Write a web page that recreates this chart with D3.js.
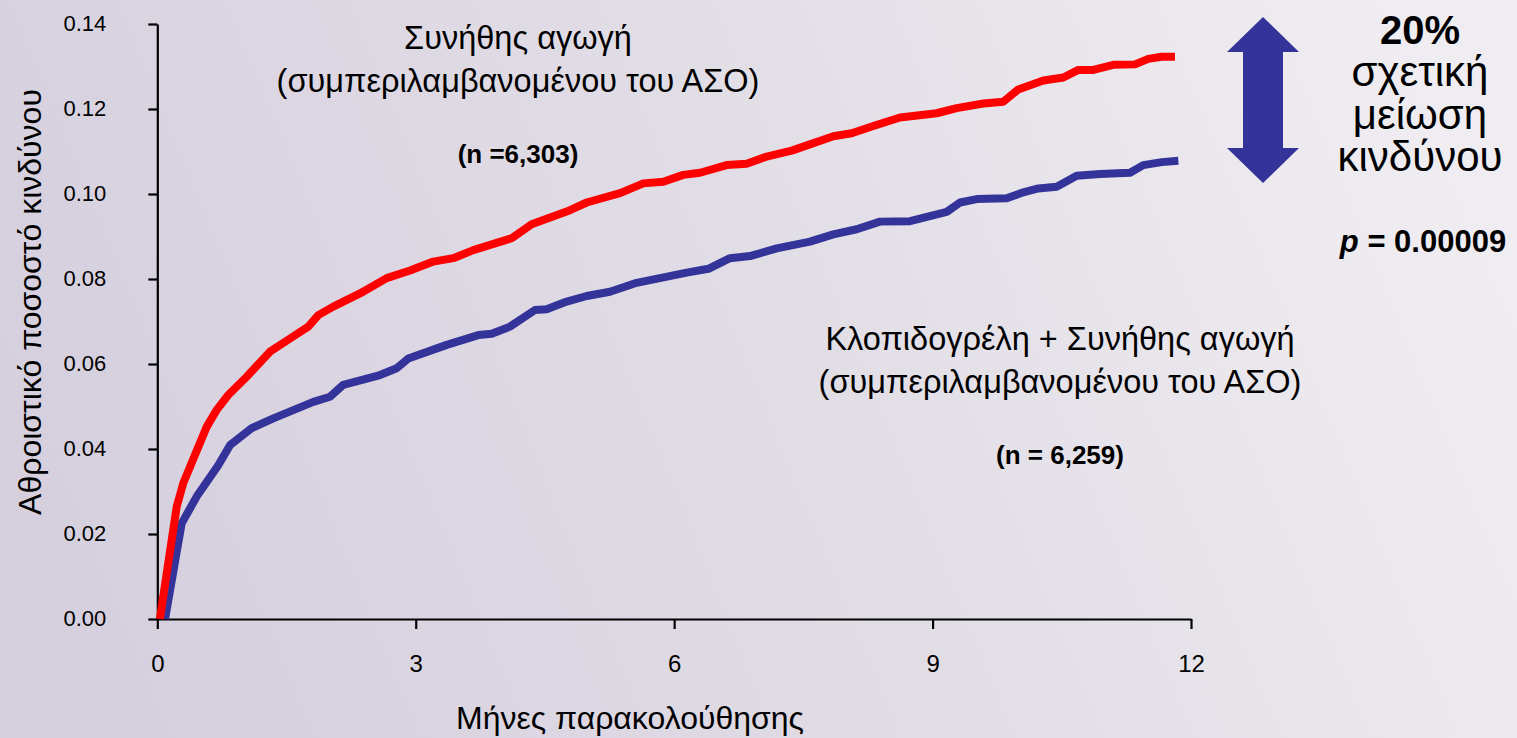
<!DOCTYPE html>
<html>
<head>
<meta charset="utf-8">
<script src="https://cdn.jsdelivr.net/npm/d3@7"></script>
<style>
  html, body { margin: 0; padding: 0; overflow: hidden; }
  body { font-family: "Liberation Sans", Arial, sans-serif; }
</style>
</head>
<body>
<div id="chart"></div>
<script>
const WIDTH = 1517;
const HEIGHT = 738;

// Cumulative hazard rate (month, rate)
const usualMonths = [0.03, 0.225, 0.302, 0.573, 0.69, 0.824, 1.038, 1.308, 1.541, 1.753, 1.869, 2.043, 2.353, 2.663, 2.934, 3.204, 3.436, 3.668, 4.114, 4.346, 4.791, 4.985, 5.372, 5.642, 5.874, 6.106, 6.3, 6.61, 6.842, 7.074, 7.365, 7.848, 8.061, 8.312, 8.622, 9.048, 9.28, 9.589, 9.821, 9.995, 10.286, 10.518, 10.692, 10.866, 11.098, 11.35, 11.504, 11.66, 11.814];
const usualRate = [0.0, 0.0264, 0.032, 0.0452, 0.0492, 0.0527, 0.057, 0.0629, 0.066, 0.0688, 0.0715, 0.0735, 0.0766, 0.0802, 0.082, 0.0841, 0.0849, 0.0868, 0.0896, 0.0929, 0.0962, 0.098, 0.1002, 0.1025, 0.1029, 0.1045, 0.105, 0.1068, 0.1071, 0.1088, 0.1102, 0.1136, 0.1143, 0.116, 0.118, 0.119, 0.1202, 0.1213, 0.1217, 0.1246, 0.1267, 0.1274, 0.1292, 0.1292, 0.1304, 0.1305, 0.1318, 0.1323, 0.1323];

const clopiMonths = [0.09, 0.283, 0.457, 0.708, 0.844, 1.096, 1.347, 1.811, 2.005, 2.159, 2.585, 2.779, 2.914, 3.36, 3.727, 3.882, 4.094, 4.385, 4.52, 4.753, 4.985, 5.255, 5.565, 6.146, 6.397, 6.648, 6.881, 7.191, 7.577, 7.848, 8.119, 8.39, 8.738, 9.164, 9.319, 9.512, 9.861, 10.053, 10.227, 10.441, 10.673, 10.944, 11.292, 11.446, 11.66, 11.853];
const clopiRate = [0.0, 0.0225, 0.0288, 0.0362, 0.0409, 0.0449, 0.0472, 0.0511, 0.0523, 0.0551, 0.0574, 0.059, 0.0613, 0.0645, 0.0668, 0.0671, 0.0688, 0.0727, 0.0729, 0.0747, 0.076, 0.077, 0.0791, 0.0815, 0.0824, 0.0849, 0.0854, 0.0872, 0.0888, 0.0905, 0.0917, 0.0935, 0.0936, 0.0958, 0.098, 0.0988, 0.099, 0.1004, 0.1013, 0.1017, 0.1043, 0.1047, 0.105, 0.1068, 0.1075, 0.1078];

const xTicks = [0, 3, 6, 9, 12];
const yTicks = [0, 0.02, 0.04, 0.06, 0.08, 0.10, 0.12, 0.14];

const usualLabel = ['Συνήθης αγωγή', '(συμπεριλαμβανομένου του ΑΣΟ)'];
const usualN = '(n =6,303)';
const clopiLabel = ['Κλοπιδογρέλη + Συνήθης αγωγή', '(συμπεριλαμβανομένου του ΑΣΟ)'];
const clopiN = '(n = 6,259)';
const reductionLines = ['σχετική', 'μείωση', 'κινδύνου'];

const RED = '#ff0000';
const BLUE = '#333399';
const FONT = '"Liberation Sans", Arial, sans-serif';

const svg = d3.select('#chart')
  .append('svg')
  .attr('width', WIDTH)
  .attr('height', HEIGHT)
  .style('font-family', FONT);

// Background gradient
const grad = svg.append('defs').append('linearGradient')
  .attr('id', 'bg')
  .attr('x1', '0%').attr('y1', '60%')
  .attr('x2', '100%').attr('y2', '40%');
grad.append('stop').attr('offset', '0%').attr('stop-color', '#d5cfde');
grad.append('stop').attr('offset', '55%').attr('stop-color', '#e2dee6');
grad.append('stop').attr('offset', '100%').attr('stop-color', '#f0edf2');

svg.append('rect')
  .attr('width', WIDTH)
  .attr('height', HEIGHT)
  .attr('fill', 'url(#bg)');

const x = d3.scaleLinear().domain([0, 12]).range([157.3, 1191]);
const y = d3.scaleLinear().domain([0, 0.14]).range([619, 24]);

// Axes
const xAxis = svg.append('g')
  .attr('transform', `translate(0,${y(0)})`)
  .call(d3.axisBottom(x).tickValues(xTicks).tickSize(10).tickSizeOuter(0).tickPadding(26).tickFormat(d3.format('d')));

const yAxis = svg.append('g')
  .attr('transform', `translate(${x(0)},0)`)
  .call(d3.axisLeft(y).tickValues(yTicks).tickSize(9).tickSizeOuter(0).tickPadding(42).tickFormat(d3.format('.2f')));

[xAxis, yAxis].forEach(g => {
  g.select('.domain').attr('stroke', '#000').attr('stroke-width', 2.2);
  g.selectAll('.tick line').attr('stroke', '#000').attr('stroke-width', 2.2);
  g.selectAll('.tick text')
    .attr('fill', '#000')
    .style('font-family', FONT);
});
yAxis.selectAll('.tick text').style('font-size', '22px').attr('dy', '0.3em');
xAxis.selectAll('.tick text').style('font-size', '24px').attr('dy', '0.71em');

// Curves
const line = d3.line()
  .x(d => x(d[0]))
  .y(d => y(d[1]));

const series = [
  { months: clopiMonths, rate: clopiRate, color: BLUE },
  { months: usualMonths, rate: usualRate, color: RED }
];

svg.selectAll('path.curve')
  .data(series)
  .enter()
  .append('path')
  .attr('class', 'curve')
  .attr('fill', 'none')
  .attr('stroke', d => d.color)
  .attr('stroke-width', 8)
  .attr('stroke-linejoin', 'round')
  .attr('d', d => line(d.months.map((m, i) => [m, d.rate[i]])));

// Axis titles
svg.append('text')
  .attr('transform', 'translate(41,302) rotate(-90)')
  .attr('text-anchor', 'middle')
  .style('font-size', '32px')
  .attr('fill', '#000')
  .text('Αθροιστικό ποσοστό κινδύνου');

svg.append('text')
  .attr('x', 630)
  .attr('y', 729)
  .attr('text-anchor', 'middle')
  .style('font-size', '32px')
  .attr('fill', '#000')
  .text('Μήνες παρακολούθησης');

// Group labels
function groupLabel(lines, nText, cx, y0) {
  lines.forEach((t, i) => {
    svg.append('text')
      .attr('x', cx)
      .attr('y', y0 + i * 43)
      .attr('text-anchor', 'middle')
      .style('font-size', '32.5px')
      .attr('fill', '#000')
      .text(t);
  });
  svg.append('text')
    .attr('x', cx)
    .attr('y', y0 + 114)
    .attr('text-anchor', 'middle')
    .style('font-size', '26px')
    .style('font-weight', 'bold')
    .attr('fill', '#000')
    .text(nText);
}
groupLabel(usualLabel, usualN, 518, 49);
groupLabel(clopiLabel, clopiN, 1060, 350);

// Double arrow
const arrowX = 1263, arrowTop = 17, arrowBottom = 183, headH = 35, headW = 36, shaftW = 20;
svg.append('path')
  .attr('fill', BLUE)
  .attr('d', [
    `M${arrowX},${arrowTop}`,
    `L${arrowX + headW},${arrowTop + headH}`,
    `L${arrowX + shaftW},${arrowTop + headH}`,
    `L${arrowX + shaftW},${arrowBottom - headH}`,
    `L${arrowX + headW},${arrowBottom - headH}`,
    `L${arrowX},${arrowBottom}`,
    `L${arrowX - headW},${arrowBottom - headH}`,
    `L${arrowX - shaftW},${arrowBottom - headH}`,
    `L${arrowX - shaftW},${arrowTop + headH}`,
    `L${arrowX - headW},${arrowTop + headH}`,
    'Z'
  ].join(''));

// Reduction annotation
svg.append('text')
  .attr('x', 1420)
  .attr('y', 44)
  .attr('text-anchor', 'middle')
  .style('font-size', '40px')
  .style('font-weight', 'bold')
  .attr('fill', '#000')
  .text('20%');

svg.selectAll('text.red-line')
  .data(reductionLines)
  .enter()
  .append('text')
  .attr('class', 'red-line')
  .attr('x', 1420)
  .attr('y', (d, i) => 86 + i * 42.5)
  .attr('text-anchor', 'middle')
  .style('font-size', '42px')
  .attr('fill', '#000')
  .text(d => d);

const pText = svg.append('text')
  .attr('x', 1423)
  .attr('y', 252)
  .attr('text-anchor', 'middle')
  .style('font-size', '31px')
  .style('font-weight', 'bold')
  .attr('fill', '#000');
pText.append('tspan').style('font-style', 'italic').text('p');
pText.append('tspan').text(' = 0.00009');
</script>
</body>
</html>
